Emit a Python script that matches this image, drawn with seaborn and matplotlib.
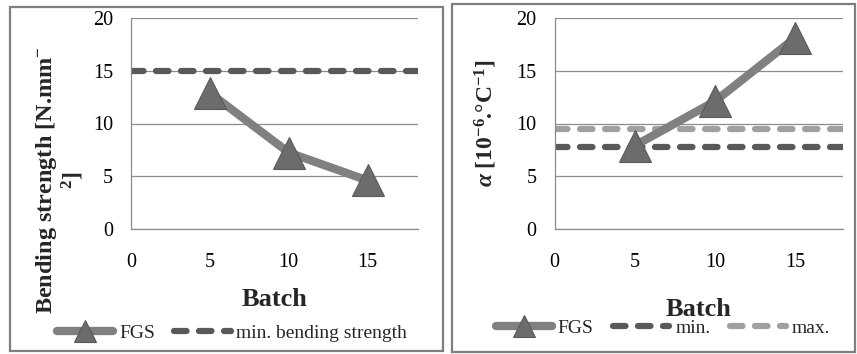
import matplotlib
matplotlib.use("Agg")
import matplotlib.pyplot as plt
import seaborn as sns
import pandas as pd
from matplotlib.patches import Rectangle
from matplotlib.lines import Line2D

# ---- data ----
batch = [5, 10, 15]
bending_fgs = [12.9, 7.25, 4.6]
min_bending = 15
alpha_fgs = [7.9, 12.1, 18.1]
alpha_min = 7.8
alpha_max = 9.45
x_ticks = [0, 5, 10, 15]
y_ticks = [0, 5, 10, 15, 20]

sns.set_style("white")
plt.rcParams['font.family'] = ['Liberation Serif', 'DejaVu Serif']
plt.rcParams['mathtext.fontset'] = 'custom'
plt.rcParams['mathtext.rm'] = 'Liberation Serif:bold'
plt.rcParams['mathtext.it'] = 'Liberation Serif:italic:bold'
plt.rcParams['mathtext.bf'] = 'Liberation Serif:bold'

FGS_LINE = '#808080'
FGS_MARK = '#6c6c6c'
MIN_C = '#595959'
MAX_C = '#a0a0a0'
GRID_C = '#8c8c8c'

W, H = 857, 354
fig = plt.figure(figsize=(W/100, H/100), dpi=100)

# frames
fig.patches.append(Rectangle((10/W, 1-351/H), 433/W, 344/H, transform=fig.transFigure,
                             fill=False, edgecolor='#7f7f7f', lw=1.6))
fig.patches.append(Rectangle((452/W, 1-352/H), 403/W, 348/H, transform=fig.transFigure,
                             fill=False, edgecolor='#7f7f7f', lw=1.6))

ax1 = fig.add_axes([131/W, 1-229/H, 287/W, 211/H])
ax2 = fig.add_axes([554.7/W, 1-229/H, 288.3/W, 211/H])

df1 = pd.DataFrame({'Batch': batch, 'val': bending_fgs})
df2 = pd.DataFrame({'Batch': batch, 'val': alpha_fgs})

def style(ax, xmax):
    ax.set_xlim(0, xmax)
    ax.set_ylim(0, 20)
    ax.set_xticks(x_ticks)
    ax.set_yticks(y_ticks)
    for s in ['top', 'right']:
        ax.spines[s].set_visible(False)
    for s in ['left', 'bottom']:
        ax.spines[s].set_color(GRID_C)
        ax.spines[s].set_linewidth(0.9)
    ax.yaxis.grid(True, color=GRID_C, lw=0.9)
    ax.set_axisbelow(True)
    ax.tick_params(axis='both', direction='out', length=5, width=0.9, color=GRID_C,
                   labelsize=14.5, labelcolor='black')
    ax.tick_params(axis='x', pad=12)
    ax.tick_params(axis='y', pad=8)

dash_kw = dict(lw=4.5, dashes=(2.0, 2.0), dash_capstyle='round', solid_capstyle='round')
mark_kw = dict(marker='^', markerfacecolor=FGS_MARK, markeredgecolor='#5a5a5a',
               markeredgewidth=0.8)

# ---- left panel ----
ax1.axhline(min_bending, color=MIN_C, **dash_kw, zorder=2)
sns.lineplot(data=df1, x='Batch', y='val', ax=ax1, color=FGS_LINE, lw=6,
             markersize=23, zorder=3, solid_capstyle='round', **mark_kw)
style(ax1, 18.2)
ax1.set_xlabel('Batch', fontsize=19, fontweight='bold', labelpad=12)
ax1.set_ylabel('')
fig.text(60/W, 1-180/H, 'Bending strength [N.mm${}^{-}$\n${}^{2}$]', rotation=90,
         ha='center', va='center', multialignment='center', fontsize=17.5,
         fontweight='bold', linespacing=1.05)

h_fgs = Line2D([], [], color=FGS_LINE, lw=6, markersize=16, solid_capstyle='round', **mark_kw)
h_min = Line2D([], [], color=MIN_C, **dash_kw)
h_max = Line2D([], [], color=MAX_C, **dash_kw)

fig.legend([h_fgs, h_min], ['FGS', 'min. bending strength'], loc='center',
           bbox_to_anchor=(232/W, 1-333/H), ncol=2, frameon=False,
           prop={'family': 'Liberation Serif', 'size': 14}, handlelength=2.9,
           handletextpad=0.3, columnspacing=1.0)

# ---- right panel ----
ax2.axhline(alpha_max, color=MAX_C, **dash_kw, zorder=2)
ax2.axhline(alpha_min, color=MIN_C, **dash_kw, zorder=2)
sns.lineplot(data=df2, x='Batch', y='val', ax=ax2, color=FGS_LINE, lw=6,
             markersize=23, zorder=3, solid_capstyle='round', **mark_kw)
style(ax2, 18.0)
ax2.set_xlabel('Batch', fontsize=19, fontweight='bold', labelpad=19)
ax2.set_ylabel('')
fig.text(486/W, 1-123/H, r'$\alpha$ [10$^{-6}$.°C$^{-1}$]', rotation=90,
         ha='center', va='center', fontsize=17, fontweight='bold')

fig.legend([h_fgs, h_min, h_max], ['FGS', 'min.', 'max.'], loc='center',
           bbox_to_anchor=(663/W, 1-328/H), ncol=3, frameon=False,
           prop={'family': 'Liberation Serif', 'size': 14}, handlelength=2.9,
           handletextpad=0.3, columnspacing=1.0)

fig.savefig('out.png', dpi=100)
